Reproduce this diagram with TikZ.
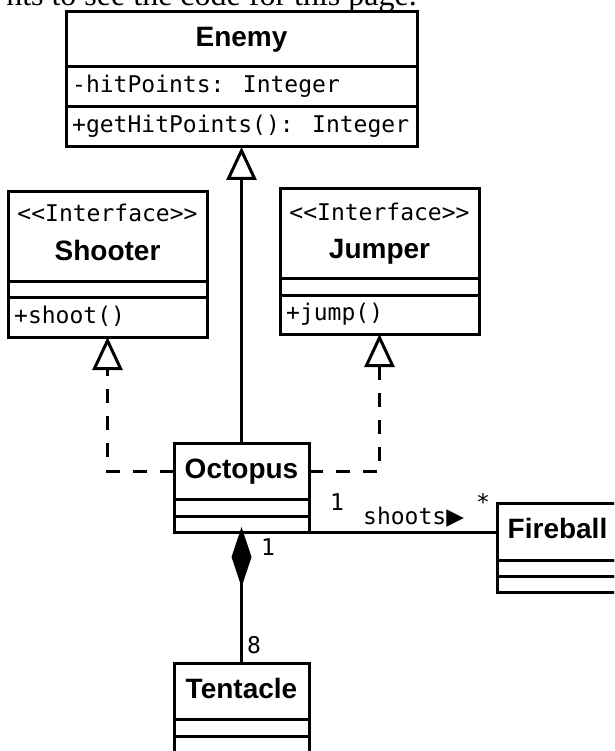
\documentclass[tikz,border=0pt]{standalone}
\usepackage{fontspec}
\setmainfont{Liberation Serif}
\newfontfamily\classfont{Liberation Sans}
\newfontfamily\memberfont{DejaVu Sans Mono}
\newfontfamily\glyphfont{DejaVu Sans}
\usetikzlibrary{arrows.meta}

\tikzset{
  part/.style={draw, rectangle, line width=3pt, outer sep=0pt, inner sep=0pt, anchor=north west},
  classname/.style={font=\classfont\bfseries\fontsize{28}{32}\selectfont, text height=20pt, text depth=6pt},
  member/.style={font=\memberfont\fontsize{23}{26}\selectfont, inner sep=0pt, text height=17pt, text depth=5pt},
  pagetext/.style={font=\fontsize{32}{36}\selectfont, inner sep=0pt},
  gen/.style={draw, line width=3pt, -{Triangle[open, length=33pt, width=30pt]}},
  realize/.style={draw, line width=3pt, dash pattern=on 14pt off 13pt, -{Triangle[open, length=33pt, width=30pt]}},
  assoc/.style={draw, line width=3pt},
  compose/.style={draw, line width=3pt, -{Diamond[length=60pt, width=20pt]}}
}

\begin{document}
\begin{tikzpicture}[x=1pt, y=-1pt]
\useasboundingbox (0,0) rectangle (614,751);
\clip (0,0) rectangle (614,751);

% running text of the surrounding page, cut by the top edge
\node[pagetext, anchor=base east] (pageline) at (417,6) {nts to see the code for this page.};

% Enemy
\node[part, classname, minimum width=351pt, minimum height=55pt] (enemy) at (66,12) {Enemy};
\node[part, minimum width=351pt, minimum height=40pt] (enemy-attr) at (enemy.south west) {};
\node[part, minimum width=351pt, minimum height=40pt] (enemy-ops) at (enemy-attr.south west) {};
\node[member, anchor=west] (enemy-attr-txt) at ([xshift=6pt]enemy-attr.west) {-hitPoints: Integer};
\node[member, anchor=west] (enemy-ops-txt) at ([xshift=6pt]enemy-ops.west) {+getHitPoints(): Integer};

% Shooter
\node[part, minimum width=199pt, minimum height=89pt] (shooter) at (8,192) {};
\node[part, minimum width=199pt, minimum height=16pt] (shooter-attr) at (shooter.south west) {};
\node[part, minimum width=199pt, minimum height=40pt] (shooter-ops) at (shooter-attr.south west) {};
\node[member] (shooter-st) at (107.5,215.5) {<<Interface>>};
\node[classname, inner sep=0pt] (shooter-name) at (107.5,253) {Shooter};
\node[member, anchor=west] (shooter-ops-txt) at ([xshift=6pt]shooter-ops.west) {+shoot()};

% Jumper
\node[part, minimum width=199pt, minimum height=89pt] (jumper) at (280,189) {};
\node[part, minimum width=199pt, minimum height=17pt] (jumper-attr) at (jumper.south west) {};
\node[part, minimum width=199pt, minimum height=39pt] (jumper-ops) at (jumper-attr.south west) {};
\node[member] (jumper-st) at (379.5,214.5) {<<Interface>>};
\node[classname, inner sep=0pt] (jumper-name) at (379.5,251) {Jumper};
\node[member, anchor=west] (jumper-ops-txt) at ([xshift=6pt]jumper-ops.west) {+jump()};

% Octopus
\node[part, classname, minimum width=135pt, minimum height=56pt] (octopus) at (174,443) {Octopus};
\node[part, minimum width=135pt, minimum height=17pt] (octopus-attr) at (octopus.south west) {};
\node[part, minimum width=135pt, minimum height=16pt] (octopus-ops) at (octopus-attr.south west) {};

% Fireball
\node[part, classname, minimum width=121pt, minimum height=57pt] (fireball) at (497,503) {Fireball};
\node[part, minimum width=121pt, minimum height=16pt] (fireball-attr) at (fireball.south west) {};
\node[part, minimum width=121pt, minimum height=16pt] (fireball-ops) at (fireball-attr.south west) {};

% Tentacle
\node[part, classname, minimum width=135pt, minimum height=56pt] (tentacle) at (174,663) {Tentacle};
\node[part, minimum width=135pt, minimum height=17pt] (tentacle-attr) at (tentacle.south west) {};
\node[part, minimum width=135pt, minimum height=18pt] (tentacle-ops) at (tentacle-attr.south west) {};

% relations
\draw[gen] (octopus.north) -- (enemy-ops.south);
\draw[realize] (octopus.west) -| (shooter-ops.south);
\draw[realize] (octopus.east) -| (jumper-ops.south);
\draw[assoc] (octopus-ops.south east) -- (octopus-ops.south east -| fireball.west);
\draw[compose] (tentacle.north) -- ([yshift=5pt]octopus-ops.south);

% multiplicities and role name
\node[member] (mult-oct-fire) at (337,504.5) {1};
\node[member, anchor=west] (shoots) at (363,518.5) {shoots{\glyphfont ▶}};
\node[member] (mult-fire) at (483,504.5) {*};
\node[member] (mult-oct-tent) at (268,549.5) {1};
\node[member] (mult-tent) at (254,647.5) {8};
\end{tikzpicture}
\end{document}
